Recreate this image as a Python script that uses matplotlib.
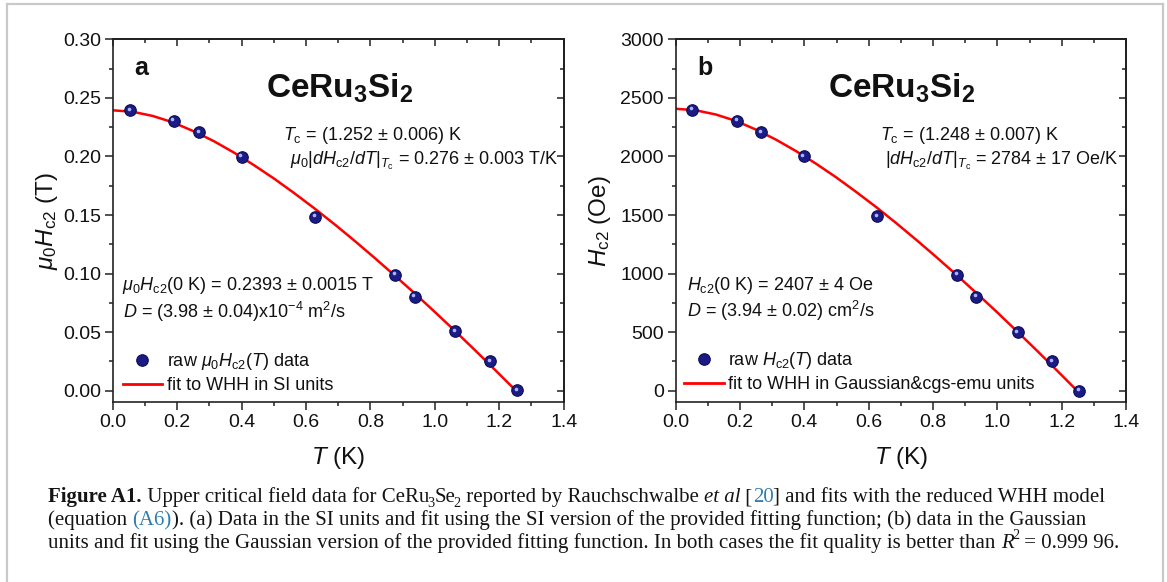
import matplotlib
matplotlib.use("Agg")
import matplotlib.pyplot as plt
from matplotlib.ticker import MultipleLocator, FormatStrFormatter, NullFormatter
from matplotlib.lines import Line2D
from matplotlib.transforms import offset_copy

plt.rcParams['font.family'] = ['Liberation Sans', 'DejaVu Sans']
plt.rcParams['mathtext.fontset'] = 'custom'
plt.rcParams['mathtext.rm'] = 'Liberation Sans'
plt.rcParams['mathtext.it'] = 'Liberation Sans:italic'
plt.rcParams['mathtext.bf'] = 'Liberation Sans:bold'

# ---------------- data ----------------
T_a = [0.054, 0.190, 0.269, 0.401, 0.629, 0.877, 0.937, 1.063, 1.172, 1.256]
Hc2_a = [0.2394, 0.2303, 0.2207, 0.1999, 0.1486, 0.0992, 0.0803, 0.0509, 0.0251, 0.0003]
T_b = [0.052, 0.191, 0.266, 0.398, 0.627, 0.875, 0.935, 1.063, 1.171, 1.255]
Hc2_b = [2398, 2303, 2207, 2000, 1491, 989, 800, 497, 251, 0]

fitT_a = [0.0, 0.0626, 0.1252, 0.1878, 0.2504, 0.3130, 0.3756, 0.4382, 0.5008, 0.5634,
          0.6260, 0.6886, 0.7512, 0.8138, 0.8764, 0.9390, 1.0016, 1.0642, 1.1268, 1.1894, 1.252]
fitH_a = [0.2394, 0.2381, 0.2345, 0.2290, 0.2216, 0.2132, 0.2034, 0.1926, 0.1811, 0.1687,
          0.1557, 0.1421, 0.1279, 0.1132, 0.0981, 0.0827, 0.0668, 0.0506, 0.0340, 0.0171, 0.0]
fitT_b = [0.0, 0.0624, 0.1248, 0.1872, 0.2496, 0.3120, 0.3744, 0.4368, 0.4992, 0.5616,
          0.6240, 0.6864, 0.7488, 0.8112, 0.8736, 0.9360, 0.9984, 1.0608, 1.1232, 1.1856, 1.248]
fitH_b = [2407, 2394, 2358, 2303, 2229, 2143, 2045, 1937, 1821, 1696,
          1566, 1429, 1286, 1139, 987, 831, 672, 508, 342, 172, 0]

x_ticks = [0.0, 0.2, 0.4, 0.6, 0.8, 1.0, 1.2, 1.4]
y_ticks_a = [0.00, 0.05, 0.10, 0.15, 0.20, 0.25, 0.30]
y_ticks_b = [0, 500, 1000, 1500, 2000, 2500, 3000]

# ---------------- figure ----------------
W, H = 1167, 582
DPI = 100
fig = plt.figure(figsize=(W / DPI, H / DPI), dpi=DPI)
fig.patch.set_facecolor('white')


def px_rect(left, top, right, bottom):
    return [left / W, 1 - bottom / H, (right - left) / W, (bottom - top) / H]


def fx(x):
    return x / W


def fy(y):
    return 1 - y / H


ax_a = fig.add_axes(px_rect(112.7, 39.3, 563.7, 402.3))
ax_b = fig.add_axes(px_rect(675.7, 39.3, 1126.0, 402.3))

NAVY = '#1b1b86'
RED = '#ff0000'
TXT = '#111111'


def style_axes(ax, yticks, yminor, fmt, ylim):
    ax.set_xlim(0, 1.4)
    ax.set_ylim(*ylim)
    ax.set_xticks(x_ticks)
    ax.xaxis.set_minor_locator(MultipleLocator(0.1))
    ax.set_yticks(yticks)
    ax.yaxis.set_minor_locator(MultipleLocator(yminor))
    ax.yaxis.set_major_formatter(FormatStrFormatter(fmt))
    ax.xaxis.set_major_formatter(FormatStrFormatter('%.1f'))
    ax.tick_params(which='both', direction='out', width=1.1, color='#222222',
                   labelsize=14, labelcolor=TXT, pad=3)
    ax.tick_params(which='major', length=5.5)
    ax.tick_params(which='minor', length=3)
    for s in ax.spines.values():
        s.set_linewidth(1.2)
        s.set_color('#222222')
    top = ax.secondary_xaxis('top')
    top.set_xticks(x_ticks)
    top.xaxis.set_minor_locator(MultipleLocator(0.1))
    top.xaxis.set_major_formatter(NullFormatter())
    top.tick_params(which='both', direction='in', width=1.1, color='#222222')
    top.tick_params(which='major', length=5)
    top.tick_params(which='minor', length=3)
    top.spines['top'].set_linewidth(1.2)
    right = ax.secondary_yaxis('right')
    right.set_yticks(yticks)
    right.yaxis.set_minor_locator(MultipleLocator(yminor))
    right.yaxis.set_major_formatter(NullFormatter())
    right.tick_params(which='both', direction='in', width=1.1, color='#222222')
    right.tick_params(which='major', length=5)
    right.tick_params(which='minor', length=3)
    right.spines['right'].set_linewidth(1.2)


def draw_points(ax, T, Hv):
    ax.plot(T, Hv, ls='none', marker='o', ms=8.3, mfc=NAVY, mec='#0c0c55', mew=0.8, zorder=3)
    hl = offset_copy(ax.transData, fig=fig, x=-1.5, y=1.5, units='dots')
    ax.plot(T, Hv, ls='none', marker='o', ms=2.6, mfc='#aab4ff', mec='none',
            transform=hl, zorder=4)


style_axes(ax_a, y_ticks_a, 0.025, '%.2f', (-0.0099, 0.30))
style_axes(ax_b, y_ticks_b, 250, '%d', (-99, 3000))

ax_a.plot(fitT_a, fitH_a, color=RED, lw=1.8, zorder=2)
draw_points(ax_a, T_a, Hc2_a)
ax_b.plot(fitT_b, fitH_b, color=RED, lw=1.8, zorder=2)
draw_points(ax_b, T_b, Hc2_b)

# axis labels
for ax in (ax_a, ax_b):
    ax.set_xlabel('$T$ (K)', fontsize=17.5, color=TXT, labelpad=10)
ax_a.set_ylabel(r'$\mu_0H_\mathrm{c2}$ (T)', fontsize=17.5, color=TXT)
ax_b.set_ylabel(r'$H_\mathrm{c2}$ (Oe)', fontsize=17.5, color=TXT)
ax_a.yaxis.set_label_coords((60 - 112.7) / 451.0, 0.5)
ax_b.yaxis.set_label_coords((613 - 675.7) / 450.3, 0.5)

# panel annotations
ANN = 13
fig.text(fx(141.6), fy(68), 'a', fontsize=18, weight='bold', ha='center', va='center', color=TXT)
fig.text(fx(704.7), fy(68), 'b', fontsize=18, weight='bold', ha='center', va='center', color=TXT)
fig.text(fx(340), fy(88), r'$\mathbf{CeRu_3Si_2}$', fontsize=24, ha='center', va='center', color=TXT)
fig.text(fx(902), fy(88), r'$\mathbf{CeRu_3Si_2}$', fontsize=24, ha='center', va='center', color=TXT)

fig.text(fx(283), fy(135), r'$T_\mathrm{c}$ = (1.252 ± 0.006) K', fontsize=ANN, va='center', color=TXT)
fig.text(fx(290), fy(161), r'$\mu_0|dH_\mathrm{c2}/dT|_{T_\mathrm{c}}$ = 0.276 ± 0.003 T/K',
         fontsize=ANN, va='center', color=TXT)
fig.text(fx(122.5), fy(286), r'$\mu_0H_\mathrm{c2}$(0 K) = 0.2393 ± 0.0015 T', fontsize=ANN,
         va='center', color=TXT)
fig.text(fx(123), fy(312), r'$D$ = (3.98 ± 0.04)x10$^{-4}$ m$^2$/s', fontsize=ANN,
         va='center', color=TXT)

fig.text(fx(879.5), fy(135), r'$T_\mathrm{c}$ = (1.248 ± 0.007) K', fontsize=ANN, va='center', color=TXT)
fig.text(fx(885), fy(161), r'$|dH_\mathrm{c2}/dT|_{T_\mathrm{c}}$ = 2784 ± 17 Oe/K',
         fontsize=ANN, va='center', color=TXT)
fig.text(fx(686.7), fy(285), r'$H_\mathrm{c2}$(0 K) = 2407 ± 4 Oe', fontsize=ANN,
         va='center', color=TXT)
fig.text(fx(686.7), fy(311), r'$D$ = (3.94 ± 0.02) cm$^2$/s', fontsize=ANN,
         va='center', color=TXT)

# legends
def add_legend(ax, labels, left_px, top_px):
    hpt = Line2D([], [], ls='none', marker='o', ms=8.3, mfc=NAVY, mec='#0c0c55', mew=0.8)
    hln = Line2D([], [], color=RED, lw=2.0)
    leg = ax.legend([hpt, hln], labels, loc='upper left',
                    bbox_to_anchor=(fx(left_px), fy(top_px)), bbox_transform=fig.transFigure,
                    frameon=False, fontsize=ANN, borderpad=0, borderaxespad=0,
                    handlelength=2.2, handletextpad=0.25, labelspacing=0.3)
    for t in leg.get_texts():
        t.set_color(TXT)
    return leg

add_legend(ax_a, [r'raw $\mu_0H_\mathrm{c2}$($T$) data', 'fit to WHH in SI units'], 122.5, 351)
add_legend(ax_b, [r'raw $H_\mathrm{c2}$($T$) data', 'fit to WHH in Gaussian&cgs-emu units'], 684, 350)

# ---------------- caption ----------------
SERIF = ['Liberation Serif', 'DejaVu Serif']
BLUE = '#2d7db3'
cap_lines = [
    [("Figure A1.", 'b'), (" Upper critical field data for CeRu", 'r'), ("3", 'sub'), ("Se", 'r'),
     ("2", 'sub'), (" reported by Rauchschwalbe ", 'r'), ("et al", 'i'), (" [", 'r'), ("20", 'blue'),
     ("] and fits with the reduced WHH model", 'r')],
    [("(equation ", 'r'), ("(A6)", 'blue'),
     ("). (a) Data in the SI units and fit using the SI version of the provided fitting function; "
      "(b) data in the Gaussian", 'r')],
    [("units and fit using the Gaussian version of the provided fitting function. In both cases "
      "the fit quality is better than ", 'r'), ("R", 'i'), ("2", 'sup'), (" = 0.999 96.", 'r')],
]
cap_targets = [1085, 1083, 1125]
cap_baselines = [502, 525, 548]
renderer = fig.canvas.get_renderer()


def seg_kw(style, size):
    kw = dict(family=SERIF, fontsize=size, color='#141414')
    dy = 0.0
    dx = 0.0
    if style == 'b':
        kw['weight'] = 'bold'
    elif style == 'i':
        kw['style'] = 'italic'
    elif style == 'blue':
        kw['color'] = BLUE
    elif style == 'sub':
        kw['fontsize'] = size * 0.68
        dy = -size * 0.22 * DPI / 72
        dx = -1.5
    elif style == 'sup':
        kw['fontsize'] = size * 0.68
        dy = size * 0.42 * DPI / 72
        dx = -1.0
    return kw, dy, dx


def ink_width(s, kw):
    t = fig.text(0, 0, s, **kw)
    w = t.get_window_extent(renderer).width
    t.remove()
    return w


def advance(txt, kw):
    # pen advance of txt, measured between two reference glyphs
    return ink_width('H' + txt + 'H', kw) - ink_width('HH', kw)


def draw_line(segs, x0, base, size, draw=True):
    x = x0
    for txt, style in segs:
        kw, dy, dx = seg_kw(style, size)
        if draw:
            off = 0.0
            if not txt.startswith(' '):
                gap_h = ink_width('HH', kw) - 2 * ink_width('H', kw)
                gap = ink_width('H' + txt, kw) - ink_width('H', kw) - ink_width(txt, kw)
                off = max(0.0, gap - gap_h / 2.0)
            fig.text(fx(x + off + dx), fy(base - dy), txt, va='baseline', ha='left', **kw)
        x += advance(txt, kw) + dx
    return x - x0

# choose a caption size whose line widths match the reference on average
base_size = 12.0
ratios = []
for segs, tgt in zip(cap_lines, cap_targets):
    ratios.append((tgt - 48) / draw_line(segs, 0, 0, base_size, draw=False))
cap_size = base_size * sum(ratios) / len(ratios)
for segs, b in zip(cap_lines, cap_baselines):
    draw_line(segs, 48, b, cap_size)

# ---------------- page border ----------------
bc = '#c9c9c9'
fig.add_artist(Line2D([fx(7), fx(7)], [0, fy(4)], transform=fig.transFigure, color=bc, lw=1.6))
fig.add_artist(Line2D([fx(7), fx(1163)], [fy(4), fy(4)], transform=fig.transFigure, color=bc, lw=1.6))
fig.add_artist(Line2D([fx(1163), fx(1163)], [0, fy(4)], transform=fig.transFigure, color=bc, lw=1.6))

fig.savefig('out.png', dpi=DPI)
